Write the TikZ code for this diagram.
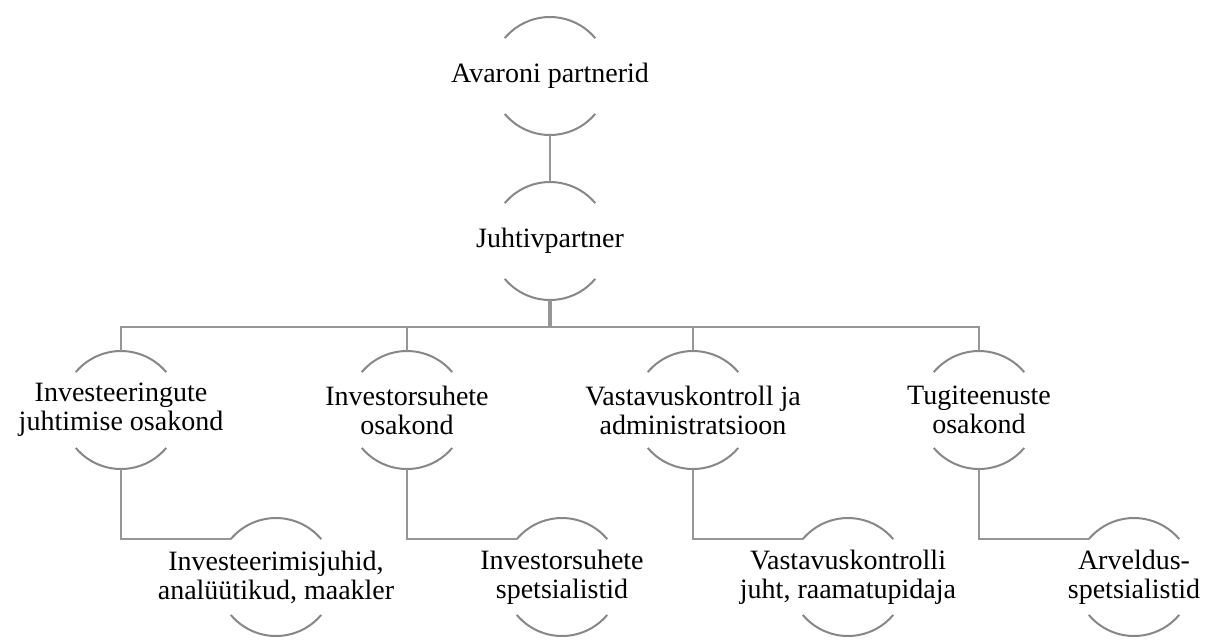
\documentclass[tikz,border=0pt]{standalone}
\usepackage{fontspec}
\setmainfont{Liberation Serif}
\usepackage{tikz}
\definecolor{arcgray}{RGB}{135,135,135}
\definecolor{linkgray}{RGB}{150,150,150}
\tikzstyle{unit}=[circle, minimum size=59pt, inner sep=0pt, outer sep=0pt]
\tikzstyle{txt}=[align=center, inner sep=0pt, font=\fontsize{14}{14.5}\selectfont]
\tikzstyle{rim}=[draw=arcgray, line width=1pt]
\tikzstyle{link}=[draw=linkgray, line width=0.9pt]

\begin{document}
\begin{tikzpicture}
  \useasboundingbox (0,0) rectangle (604.5pt,-319.5pt);

  \node(top)[unit, label={[txt]center:Avaroni partnerid}] at (275pt,-38pt) {};

  \path(top)+(0,-82.5pt) node(lead)[unit, label={[txt]center:Juhtivpartner}]{};

  % osakonnad
  \path(lead)+(-214.5pt,-84.5pt) node(inv)[unit,
    label={[txt]center:{Investeeringute\\juhtimise osakond}}]{};
  \path(inv)+(143pt,0) node(ir)[unit,
    label={[txt]center:{Investorsuhete\\osakond}}]{};
  \path(ir)+(143pt,0) node(comp)[unit,
    label={[txt]center:{Vastavuskontroll ja\\administratsioon}}]{};
  \path(comp)+(143pt,0) node(sup)[unit,
    label={[txt]center:{Tugiteenuste\\osakond}}]{};

  % töötajad
  \path(inv)+(77.5pt,-83.5pt) node(invs)[unit,
    label={[txt]center:{Investeerimisjuhid,\\analüütikud, maakler}}]{};
  \path(ir)+(77.5pt,-83.5pt) node(irs)[unit,
    label={[txt]center:{Investorsuhete\\spetsialistid}}]{};
  \path(comp)+(77.5pt,-83.5pt) node(comps)[unit,
    label={[txt]center:{Vastavuskontrolli\\juht, raamatupidaja}}]{};
  \path(sup)+(77.5pt,-83.5pt) node(sups)[unit,
    label={[txt]center:{Arveldus-\\spetsialistid}}]{};

  \foreach \n in {top,lead,inv,ir,comp,sup,invs,irs,comps,sups}{
    \draw[rim] (\n.140) arc (140:40:29.5pt);
    \draw[rim] (\n.220) arc (220:320:29.5pt);
  }

  \draw[link] (top.south) -- (lead.north);

  \path(lead.south)+(0,-13.5pt) coordinate(bus);
  \draw[link, line width=2pt] (lead.south) -- (bus);
  \draw[link] (inv.north) -- (inv.north |- bus) -- (sup.north |- bus) -- (sup.north);
  \draw[link] (ir.north) -- (ir.north |- bus);
  \draw[link] (comp.north) -- (comp.north |- bus);

  \draw[link] (inv.south) |- (invs.140);
  \draw[link] (ir.south) |- (irs.140);
  \draw[link] (comp.south) |- (comps.140);
  \draw[link] (sup.south) |- (sups.140);
\end{tikzpicture}
\end{document}
